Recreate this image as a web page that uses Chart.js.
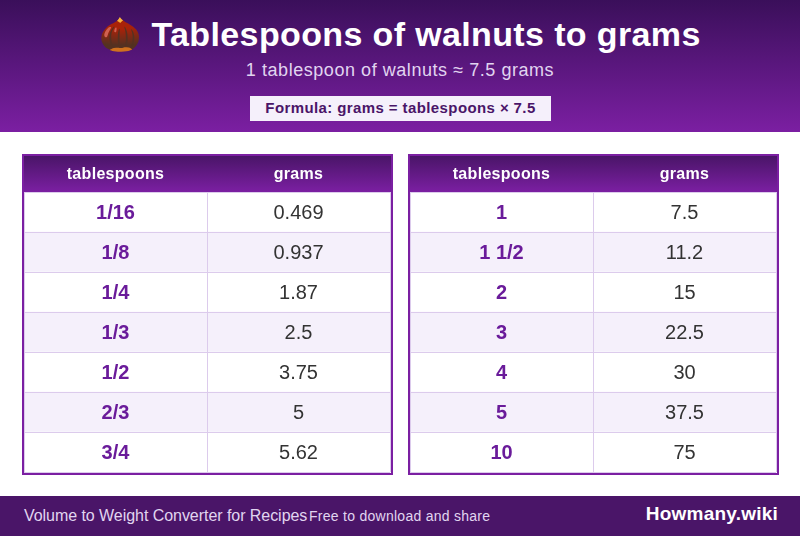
<!DOCTYPE html>
<html><head><meta charset="utf-8">
<style>
html,body{margin:0;padding:0;background:#fff;width:800px;height:536px;overflow:hidden;font-family:"Liberation Sans",Arial,sans-serif}
#head{position:absolute;left:0;top:0;width:800px;height:132px;background:linear-gradient(#3a0f5a,#7b1fa2);text-align:center}
#title{position:absolute;left:0;width:800px;top:12px;font-size:34px;line-height:44px;font-weight:bold;color:#fff;letter-spacing:.37px;white-space:pre}
#sub{position:absolute;left:0;width:800px;top:59px;font-size:18px;line-height:22px;color:#e1d5f0;letter-spacing:.55px}
#formula{position:absolute;left:250px;top:96px;width:301px;height:25px;line-height:23px;background:#f5f0fb;color:#4a1568;font-size:15px;font-weight:bold;letter-spacing:.4px}
#foot{position:absolute;left:0;top:496px;width:800px;height:40px;background:#4a1568}
#foot span{position:absolute;white-space:nowrap;line-height:40px;top:0}
#f1{left:24px;font-size:16px;color:#e1d5f0;letter-spacing:-.05px}
#f2{left:309px;font-size:14px;color:#e1d5f0;letter-spacing:.27px}
#f3{right:22px;font-size:19px;font-weight:bold;color:#fff;top:-2px!important;letter-spacing:.22px}
canvas{position:absolute;top:154px}
#c1{left:22px}#c2{left:408px}
</style>
<script src="https://cdn.jsdelivr.net/npm/chart.js@4"></script>
</head><body>
<div id="head">
<div id="title">🌰 Tablespoons of walnuts to grams</div>
<div id="sub">1 tablespoon of walnuts ≈ 7.5 grams</div>
<div id="formula">Formula: grams = tablespoons × 7.5</div>
</div>
<canvas id="c1" width="371" height="321"></canvas>
<canvas id="c2" width="371" height="321"></canvas>
<div id="foot"><span id="f1">Volume to Weight Converter for Recipes</span><span id="f2">Free to download and share</span><span id="f3">Howmany.wiki</span></div>
<script>
const columnHeaders = ["tablespoons", "grams"];
const tablespoonsLeft = ["1/16", "1/8", "1/4", "1/3", "1/2", "2/3", "3/4"];
const gramsLeft = ["0.469", "0.937", "1.87", "2.5", "3.75", "5", "5.62"];
const tablespoonsRight = ["1", "1 1/2", "2", "3", "4", "5", "10"];
const gramsRight = ["7.5", "11.2", "15", "22.5", "30", "37.5", "75"];

const BORDER = "#7b1fa2", LINE = "#dccbec", ALT = "#f5f0fb", WHITE = "#ffffff";
const LABEL = "#6a1b9a", VALUE = "#333333";

const tablePlugin = {
  id: "table",
  beforeDraw(chart) {
    const c = chart.ctx, W = chart.width, H = chart.height, a = chart.chartArea;
    c.save();
    c.fillStyle = BORDER;
    c.fillRect(0, 0, W, H);
    c.fillStyle = WHITE;
    c.fillRect(2, 2, W - 4, H - 4);
    const g = c.createLinearGradient(0, 2, 0, a.top);
    g.addColorStop(0, "#4a1568");
    g.addColorStop(1, "#7b1fa2");
    c.fillStyle = g;
    c.fillRect(2, 2, W - 4, a.top - 2);
    c.restore();
    c.letterSpacing = "0.3px";
  },
  afterDatasetsDraw(chart) {
    const c = chart.ctx;
    c.save();
    c.letterSpacing = "0px";
    c.textAlign = "center";
    c.textBaseline = "middle";
    chart.data.datasets.forEach((ds, d) => {
      chart.getDatasetMeta(d).data.forEach((bar, i) => {
        const p = bar.getProps(["x", "y", "base"], true);
        c.font = (d === 0 ? "bold " : "") + "20px 'Liberation Sans'";
        c.fillStyle = d === 0 ? LABEL : VALUE;
        c.fillText(ds.cellText[i], (p.x + p.base) / 2, p.y + 1);
      });
    });
    c.restore();
  }
};

function makeTable(id, rowLabels, rowValues) {
  const fills = rowLabels.map((_, i) => (i % 2 ? ALT : WHITE));
  new Chart(document.getElementById(id), {
    type: "bar",
    data: {
      labels: rowLabels,
      datasets: [
        { cellText: rowLabels, data: rowLabels.map(() => [0, 1]), backgroundColor: fills, borderWidth: 0, grouped: false, barPercentage: 1, categoryPercentage: 1, xAxisID: "x", yAxisID: "y" },
        { cellText: rowValues, data: rowLabels.map(() => [1, 2]), backgroundColor: fills, borderWidth: 0, grouped: false, barPercentage: 1, categoryPercentage: 1, xAxisID: "x", yAxisID: "y" }
      ]
    },
    plugins: [tablePlugin],
    options: {
      indexAxis: "y",
      responsive: false,
      animation: false,
      devicePixelRatio: 1,
      layout: { padding: { left: 2, right: 3, top: 2, bottom: 3 } },
      plugins: { legend: { display: false }, tooltip: { enabled: false }, title: { display: false } },
      scales: {
        x: { type: "linear", min: 0, max: 2, display: false },
        head: {
          type: "category", axis: "x", position: "top", labels: columnHeaders, offset: true,
          afterFit(s) { s.height = 36; },
          border: { display: false },
          grid: { offset: true, z: 1, color: LINE, lineWidth: 1, drawTicks: false },
          ticks: { color: "#ffffff", font: { family: "Liberation Sans", size: 16, weight: "bold" }, padding: 8, maxRotation: 0, autoSkip: false }
        },
        y: {
          type: "category", offset: true,
          afterFit(s) { s.width = 0; },
          border: { display: false },
          grid: { offset: true, z: 1, color: LINE, lineWidth: 1, drawTicks: false },
          ticks: { display: false }
        }
      }
    }
  });
}
makeTable("c1", tablespoonsLeft, gramsLeft);
makeTable("c2", tablespoonsRight, gramsRight);
</script>
</body></html>
